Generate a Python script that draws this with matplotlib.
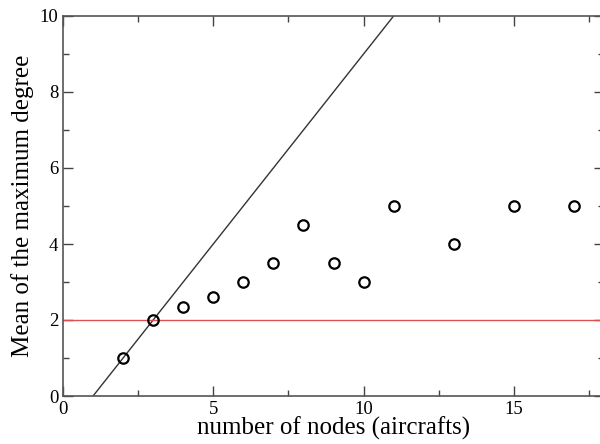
import matplotlib.pyplot as plt
import numpy as np

# Data
nodes = [2, 3, 4, 5, 6, 7, 8, 9, 10, 11, 13, 15, 17]
mean_max_degree = [1, 2, 2.35, 2.6, 3, 3.5, 4.5, 3.5, 3, 5, 4, 5, 5]
line_x = [1, 11]
line_y = [0, 10]
threshold = 2

plt.rcParams['font.family'] = ['Liberation Serif', 'DejaVu Serif']

fig = plt.figure(figsize=(6, 4.44), dpi=100)
ax = fig.add_axes([63 / 600, 1 - 396 / 444, 541 / 600, 380 / 444])

ax.plot(line_x, line_y, color='#333333', lw=1.0)
ax.axhline(threshold, color='#d9534f', lw=1.0)
ax.plot(nodes, mean_max_degree, 'o', mfc='none', mec='black', mew=1.6, ms=7.5)

ax.set_xlim(0, 18)
ax.set_ylim(0, 10)
ax.set_xticks([0, 5, 10, 15])
ax.set_xticks(np.arange(0, 18.1, 2.5), minor=True)
ax.set_yticks([0, 2, 4, 6, 8, 10])
ax.set_yticks(np.arange(1, 10, 2), minor=True)
ax.tick_params(which='both', direction='in', top=True, right=True,
               labelsize=13.5, color='#444444', width=1)
ax.tick_params(which='major', length=7)
ax.tick_params(which='minor', length=4)
for s in ax.spines.values():
    s.set_color('#555555')
    s.set_linewidth(1.2)

ax.set_xlabel('number of nodes (aircrafts)', fontsize=18, labelpad=-1)
ax.set_ylabel('Mean of the maximum degree', fontsize=18, labelpad=4)

fig.savefig('out.png', dpi=100)
